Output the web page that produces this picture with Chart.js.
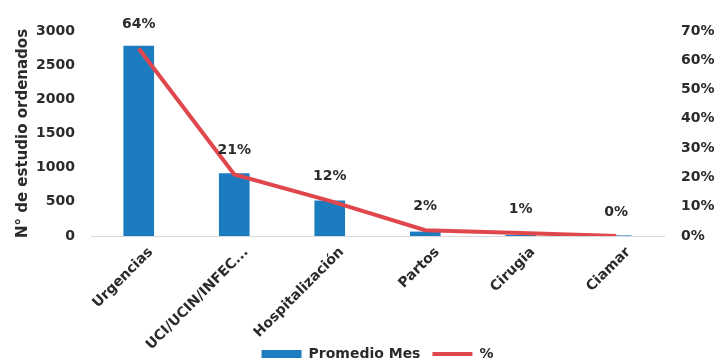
<!DOCTYPE html>
<html>
<head>
<meta charset="utf-8">
<script src="https://cdn.jsdelivr.net/npm/chart.js@4"></script>
<style>
  html, body { margin: 0; padding: 0; background: #fff; }
  #wrap { width: 716px; height: 359px; }
</style>
</head>
<body>
<div id="wrap"><canvas id="estudios-chart"></canvas></div>
<script>
// Estudios ordenados por servicio
const servicios = ['Urgencias', 'UCI/UCIN/INFEC...', 'Hospitalización', 'Partos', 'Cirugia', 'Ciamar'];
const promedioMes = [2780, 915, 515, 60, 12, 4];
const porcentaje = [64, 21, 12, 2, 1, 0];

const textColor = '#2b2b2b';
const fontFamily = '"DejaVu Sans", sans-serif';

// Etiquetas de porcentaje sobre la línea
const pctLabels = {
    id: 'pctLabels',
    beforeDraw(chart) {
        // las etiquetas giradas del eje x bajan hasta la leyenda, sin recorte
        chart.scales.x._computeLabelArea = function() { return undefined; };
    },
    afterDatasetsDraw(chart) {
        const ctx = chart.ctx;
        const meta = chart.getDatasetMeta(1);
        ctx.save();
        ctx.font = 'bold 14px ' + fontFamily;
        ctx.fillStyle = textColor;
        ctx.textAlign = 'center';
        ctx.textBaseline = 'middle';
        meta.data.forEach(function(pt, i) {
            ctx.fillText(porcentaje[i] + '%', pt.x, pt.y - 24);
        });
        ctx.restore();
    }
};

new Chart(document.getElementById('estudios-chart'), {
    data: {
        labels: servicios,
        datasets: [{
            type: 'bar',
            label: 'Promedio Mes',
            data: promedioMes,
            backgroundColor: '#1c7cc0',
            borderWidth: 0,
            barThickness: 30,
            yAxisID: 'y',
            order: 2,
            pointStyle: 'rect'
        }, {
            type: 'line',
            label: '%',
            data: porcentaje,
            borderColor: '#e0474c',
            backgroundColor: '#e0474c',
            borderWidth: 4,
            pointRadius: 0,
            tension: 0,
            yAxisID: 'y1',
            order: 1,
            pointStyle: 'line'
        }]
    },
    options: {
        responsive: true,
        maintainAspectRatio: false,
        animation: false,
        layout: { padding: { top: 31, right: 0, left: 0, bottom: -12 } },
        scales: {
            x: {
                grid: { display: false, drawTicks: false },
                border: { color: '#d9d9d9', width: 1 },
                ticks: {
                    minRotation: 45,
                    maxRotation: 45,
                    padding: 8,
                    labelOffset: 12,
                    color: textColor,
                    font: { family: fontFamily, size: 14, weight: 'bold' }
                },
                afterFit: function(scale) {
                    scale.height = 99;
                    scale.paddingLeft = 0;
                    scale.paddingRight = 0;
                }
            },
            y: {
                position: 'left',
                min: 0,
                max: 3000,
                grid: { display: false, drawTicks: false },
                border: { display: false },
                ticks: {
                    stepSize: 500,
                    padding: 16,
                    color: textColor,
                    font: { family: fontFamily, size: 14, weight: 'bold' },
                    callback: function(value) {
                        return String(value);
                    }
                },
                title: {
                    display: true,
                    text: 'N° de estudio ordenados',
                    color: textColor,
                    padding: { top: 14, bottom: 0 },
                    font: { family: fontFamily, size: 15, weight: 'bold' }
                },
                afterFit: function(scale) {
                    scale.width = 91;
                }
            },
            y1: {
                position: 'right',
                min: 0,
                max: 70,
                grid: { display: false, drawTicks: false },
                border: { display: false },
                ticks: {
                    stepSize: 10,
                    padding: 17,
                    color: textColor,
                    font: { family: fontFamily, size: 14, weight: 'bold' },
                    callback: function(value) {
                        return value + '%';
                    }
                },
                afterFit: function(scale) {
                    scale.width = 52;
                }
            }
        },
        plugins: {
            tooltip: { enabled: false },
            legend: {
                position: 'bottom',
                fullSize: false,
                labels: {
                    usePointStyle: true,
                    pointStyleWidth: 40,
                    boxHeight: 8,
                    padding: 12,
                    color: textColor,
                    font: { family: fontFamily, size: 14, weight: 'bold' },
                    sort: function(a, b) {
                        return a.datasetIndex - b.datasetIndex;
                    }
                }
            }
        }
    },
    plugins: [pctLabels]
});
</script>
</body>
</html>
